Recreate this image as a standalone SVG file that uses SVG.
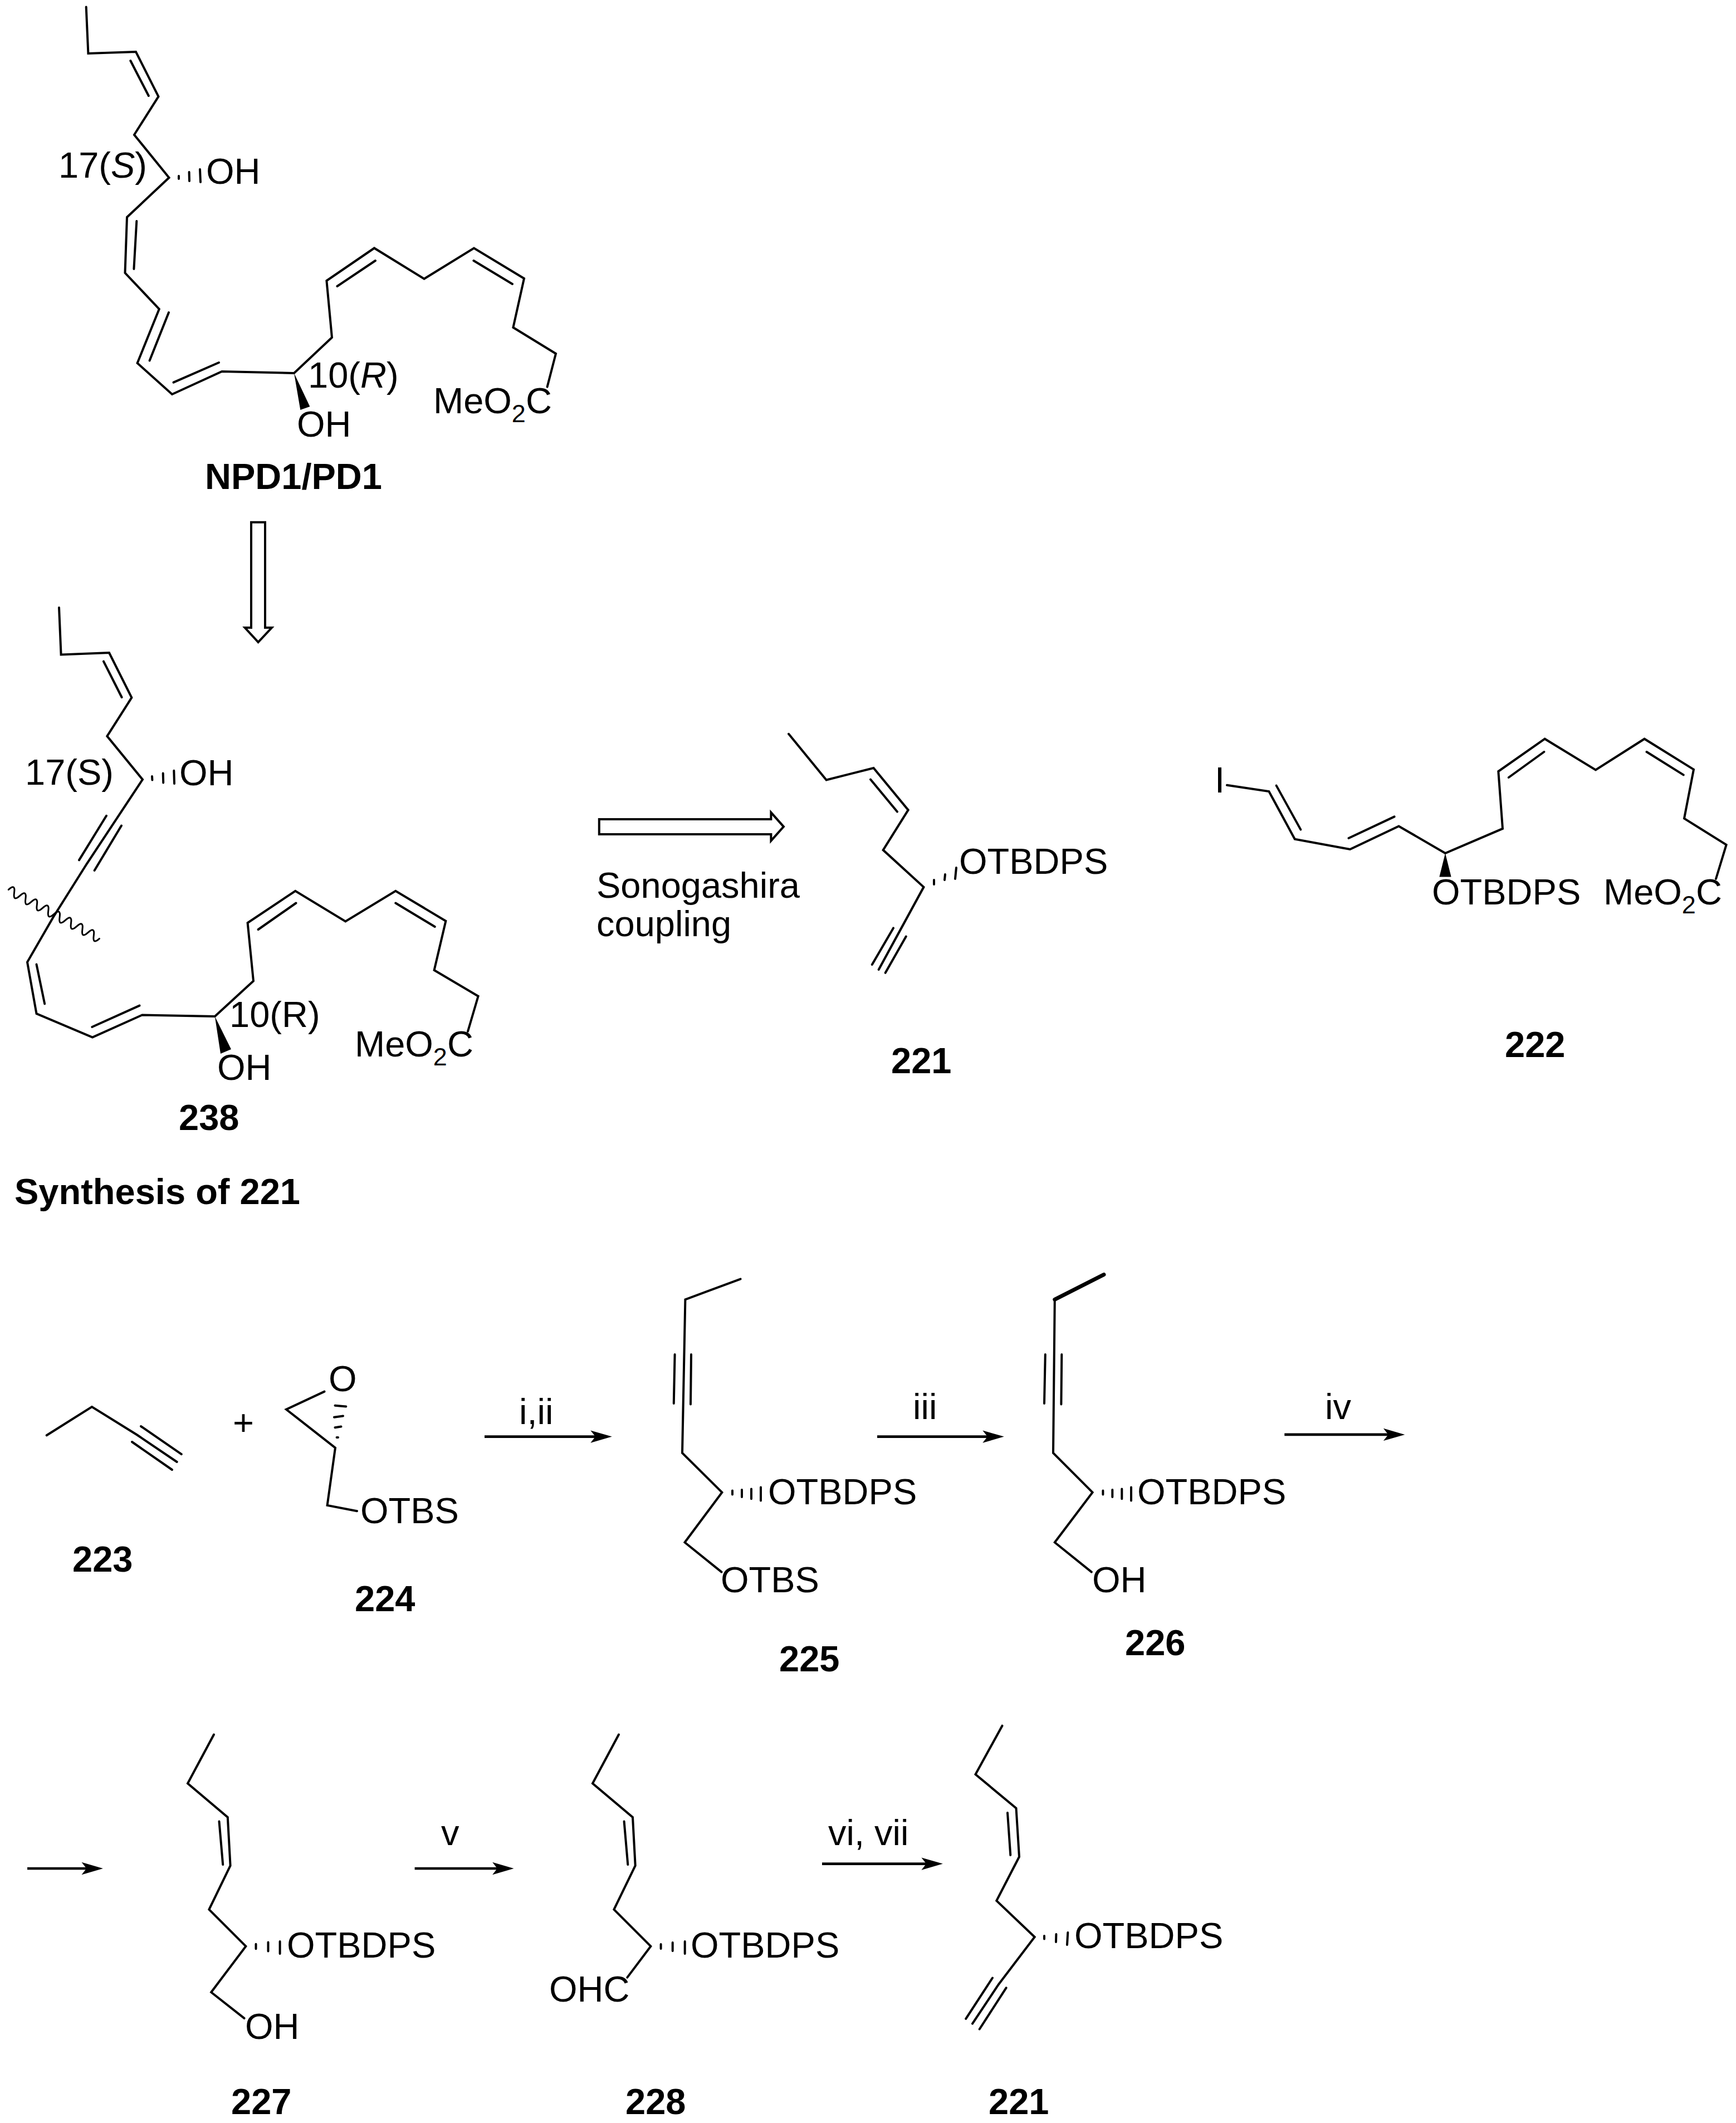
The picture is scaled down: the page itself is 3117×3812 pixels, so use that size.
<svg xmlns="http://www.w3.org/2000/svg" width="3117" height="3812" viewBox="0 0 3117 3812">
<style>
.bg{fill:#fff}
.b{fill:none;stroke:#000;stroke-width:4;stroke-linejoin:miter;stroke-linecap:round}
.h{fill:none;stroke:#000;stroke-width:4;stroke-linecap:round}
.w{fill:#000;stroke:none}
.o{fill:#fff;stroke:#000;stroke-width:4;stroke-linejoin:miter}
.s{stroke:#000;stroke-width:4.6;fill:none}
text{font-family:"Liberation Sans",Arial,sans-serif;font-size:65px;fill:#000}
.l{font-weight:bold}
.sub{font-size:45px}
</style>
<defs>
<path id="head" class="w" d="M38.5 0L0 -11.2L8.8 0L0 11.2Z"/>
</defs>
<rect class="bg" width="3117" height="3812"/>

<g id="npd1">
<path class="b" d="M154.7 12.6L158.4 95.9L244 93L284.5 173.4L241 242L303.5 319L228 390L224.5 490L285.8 555L246.6 652L309 708L398.4 667L528 670L596 606L586.4 504L672 445.5L761.6 500.6L851 445.5L941 500L921.4 588L998 635L982.6 694.6"/>
<path class="b" d="M234.3 109L266.8 172M245.3 397L240.4 483M303 561L268.6 647.5M311.5 686.6L393 651M605.4 514L674 468M850.4 468L920 510"/>
<path class="h" d="M321 316V321M339.6 309L340 325M359 304L360 327"/>
<path class="w" d="M528 670L539.3 736L556.4 730Z"/>
<text x="105" y="318.6">17(<tspan font-style="italic">S</tspan>)</text>
<text x="370" y="330">OH</text>
<text x="553" y="695.7">10(<tspan font-style="italic">R</tspan>)</text>
<text x="533" y="783.6">OH</text>
<text x="778" y="741.7">MeO<tspan class="sub" dy="16">2</tspan><tspan dy="-16">C</tspan></text>
<text class="l" x="368" y="878">NPD1/PD1</text>
</g>

<g id="c238">
<path class="b" d="M106 1091L109.6 1175.5L196 1172L236.4 1252.7L192.3 1321.8L256 1399.7L156 1550.8L95.5 1647L49 1727.6L65.5 1820L166 1862.6L255.4 1822.4L385.8 1824.9L455 1761.4L444.6 1657L530.3 1599.8L620.3 1654.5L710.3 1599.8L800.4 1653.7L779.6 1742L858.6 1788.7L840 1852"/>
<path class="b" d="M191 1464.8L142 1544.4M218 1482.5L169.6 1563M186 1187.6L218.6 1252M65.5 1731.6L80.2 1802.4M165.3 1844L250.5 1805.6M463.6 1669L531.5 1621.5M710.3 1621.5L780.8 1664"/>
<path class="h" d="M273 1394L273.4 1400.5M292.7 1388.5L293.2 1405.4M312.3 1383.7L313 1407"/>
<path class="w" d="M385.8 1825L396 1892L415 1884Z"/>
<path class="b" style="stroke-width:3" d="M15.3 1597.4q12.7 -11.35 10.2 5.5t10.2 5.5t10.2 5.5t10.2 5.5t10.2 5.5t10.2 5.5t10.2 5.5t10.2 5.5t10.2 5.5t10.2 5.5t10.2 5.5t10.2 5.5t10.2 5.5t10.2 5.5t10.2 5.5t10.2 5.5"/>
<text x="45" y="1408.6">17(S)</text>
<text x="322" y="1410">OH</text>
<text x="412" y="1844">10(R)</text>
<text x="390" y="1939">OH</text>
<text x="637" y="1897">MeO<tspan class="sub" dy="16">2</tspan><tspan dy="-16">C</tspan></text>
<text class="l" x="321" y="2029">238</text>
</g>

<text id="synthesis-title" class="l" x="26" y="2161.5">Synthesis of 221</text>

<g id="c221-top">
<path class="b" d="M1416 1317.8L1483.7 1400.4L1568.5 1379L1630.7 1454.4L1585.7 1526.3L1658.5 1592.8L1577.7 1741"/>
<path class="b" d="M1563 1399.5L1611 1457.5M1604 1666.4L1565.8 1732M1626.8 1681.6L1589.7 1746.8"/>
<path class="h" d="M1677 1580L1677 1588M1697 1570L1696 1580M1717 1558L1715 1578"/>
<text x="1722" y="1569">OTBDPS</text>
<text class="l" x="1600" y="1927">221</text>
</g>

<g id="c222">
<text x="2181" y="1423">I</text>
<path class="b" d="M2203 1409.7L2278.4 1421L2324.8 1506.6L2424 1525L2511.5 1483.4L2595 1532L2698 1487.9L2690.3 1385L2773.7 1326.7L2865 1382.5L2952.6 1326.7L3041 1381.6L3024 1469.6L3099.6 1516.9L3081 1578"/>
<path class="b" d="M2291.7 1410.6L2335.4 1489.6M2421.5 1505L2503.6 1466.4M2708.8 1396L2772.4 1350M2956.5 1350L3022.7 1391.4"/>
<path class="w" d="M2595 1532L2584.4 1574.5L2605.6 1574.5Z"/>
<text x="2571" y="1623.6">OTBDPS</text>
<text x="2879" y="1623.6">MeO<tspan class="sub" dy="16">2</tspan><tspan dy="-16">C</tspan></text>
<text class="l" x="2702" y="1898">222</text>
</g>

<g id="c223">
<path class="b" d="M83.7 2577.3L165 2526L245.8 2576.3L317.7 2625"/>
<path class="b" d="M253 2561L325.8 2611.2M237 2589L308.9 2639"/>
<text class="l" x="130" y="2821.7">223</text>
</g>
<text id="plus" x="418" y="2577">+</text>

<g id="c224">
<path class="b" d="M582.5 2498.6L514 2530.7L602 2599.6L587.6 2703L641 2713.2"/>
<path class="h" d="M601.5 2523.7L621.3 2525.5M600 2544.7L616 2542.4M601.5 2563.3L612.5 2561.5M604.6 2581L607 2581"/>
<text x="590" y="2498">O</text>
<text x="647" y="2734.6">OTBS</text>
<text class="l" x="637" y="2893">224</text>
</g>

<g id="c225">
<path class="b" d="M1329.5 2296.5L1230.4 2333.3L1225 2609L1296.4 2679.7L1229.5 2769.5L1295.5 2822.6"/>
<path class="b" d="M1211.6 2432L1209.8 2520M1241 2432L1240 2521.4"/>
<path class="h" d="M1315 2676.4V2683.4M1332 2675V2688M1349 2673.6V2691.3M1366 2670.4V2694.6"/>
<text x="1379" y="2700.6">OTBDPS</text>
<text x="1294" y="2859">OTBS</text>
<text class="l" x="1399" y="3001">225</text>
</g>

<g id="c226">
<path class="b" d="M1893.8 2333.3L1891 2609L1961.6 2679.7L1893.8 2769.5L1959.8 2822.6"/>
<path class="b" style="stroke-width:7" d="M1982 2288.6L1893.8 2333.3"/>
<path class="b" d="M1876.8 2432L1875 2520M1906.3 2432L1905.4 2521.4"/>
<path class="h" d="M1980.4 2676.4V2683.4M1997.3 2675V2688M2014.3 2673.6V2691.3M2031 2670.4V2694.6"/>
<text x="2042" y="2700.6">OTBDPS</text>
<text x="1961" y="2859">OH</text>
<text class="l" x="2020" y="2971.6">226</text>
</g>

<g id="c227">
<path class="b" d="M384 3114.5L337 3202.3L408.8 3263L413.6 3349.8L375.4 3428.7L441.4 3494.6L379.2 3577.2L438.5 3623.9"/>
<path class="b" d="M393.5 3270.5L400.2 3348"/>
<path class="h" d="M459.5 3490.8V3499.2M481.5 3487.6V3503.4M502.6 3486V3508"/>
<text x="515" y="3515">OTBDPS</text>
<text x="440" y="3661">OH</text>
<text class="l" x="415" y="3795.7">227</text>
</g>

<g id="c228">
<path class="b" d="M1111 3114.5L1064 3202.3L1136 3263L1140.7 3349.8L1102.4 3428.7L1168.4 3494.6L1126.3 3550.6"/>
<path class="b" d="M1120.6 3270.5L1127.3 3348"/>
<path class="h" d="M1186.6 3491V3499M1207.7 3488V3503M1229.7 3486V3508"/>
<text x="1240" y="3515">OTBDPS</text>
<text x="986" y="3593.5">OHC</text>
<text class="l" x="1123" y="3795.7">228</text>
</g>

<g id="c221-bottom">
<path class="b" d="M1799.5 3098.7L1751.5 3186L1824.5 3246.7L1830 3334L1789.3 3412.9L1857.7 3478L1792.9 3563.2L1746 3633.7"/>
<path class="b" d="M1809 3255L1814.3 3331M1782 3551.5L1734.2 3624.8M1806.6 3569.3L1758.7 3643.5"/>
<path class="h" d="M1875 3476V3481.5M1896.4 3473L1896 3487M1917.3 3470L1916 3492"/>
<text x="1929" y="3497.8">OTBDPS</text>
<text class="l" x="1775" y="3795.7">221</text>
</g>

<g id="connectors">
<path class="o" d="M451 937.7H476V1127H488L463.6 1153L439.7 1127H451Z"/>
<path class="o" d="M1075.8 1470.9H1384.4V1458.8L1407 1484.3L1384.4 1509.7V1498H1075.8Z"/>
<path class="s" d="M870 2579.6H1070"/><use href="#head" x="1060.3" y="2579.6"/>
<path class="s" d="M1575 2579.6H1774"/><use href="#head" x="1764.3" y="2579.6"/>
<path class="s" d="M2306.3 2575.9H2493"/><use href="#head" x="2483.9" y="2575.9"/>
<path class="s" d="M49 3355H156"/><use href="#head" x="146.5" y="3355"/>
<path class="s" d="M744.6 3355H894"/><use href="#head" x="884.1" y="3355"/>
<path class="s" d="M1476 3346.6H1663"/><use href="#head" x="1654.4" y="3346.6"/>
</g>

<g id="labels">
<text x="1071" y="1611.5">Sonogashira</text>
<text x="1071" y="1680.7">coupling</text>
<text x="932" y="2557">i,ii</text>
<text x="1639" y="2548">iii</text>
<text x="2379" y="2548">iv</text>
<text x="792" y="3312.5">v</text>
<text x="1487" y="3313.4">vi, vii</text>
</g>
</svg>
